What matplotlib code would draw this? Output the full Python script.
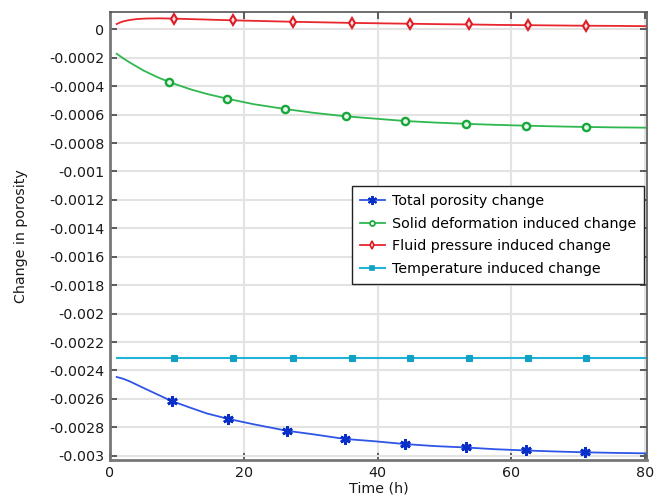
import numpy as np
import matplotlib
matplotlib.use("Agg")
import matplotlib.pyplot as plt

# Time samples (h) and porosity change for each contribution
t_solid = [1.0, 2.0, 3.0, 5.0, 7.0, 8.85, 12.0, 14.5, 17.5, 21.5, 26.2, 30.5, 35.2,
           40.0, 44.1, 48.5, 53.2, 57.5, 62.1, 66.5, 71.1, 75.5, 80.0]
solid = [-1.72e-4, -2.05e-4, -2.35e-4, -2.90e-4, -3.35e-4, -3.71e-4, -4.22e-4, -4.55e-4,
         -4.88e-4, -5.27e-4, -5.61e-4, -5.88e-4, -6.12e-4, -6.30e-4, -6.45e-4, -6.56e-4,
         -6.65e-4, -6.72e-4, -6.78e-4, -6.83e-4, -6.87e-4, -6.90e-4, -6.92e-4]
solid_marks = [8.85, 17.5, 26.2, 35.2, 44.1, 53.2, 62.1, 71.1]

t_fluid = [1.0, 1.5, 2.0, 3.0, 4.0, 5.5, 7.5, 9.6, 14.0, 18.4, 22.8, 27.3, 31.7, 36.1,
           40.5, 44.9, 49.3, 53.7, 58.0, 62.4, 66.8, 71.2, 75.6, 80.0]
fluid = [3.7e-5, 4.8e-5, 5.6e-5, 6.6e-5, 7.2e-5, 7.6e-5, 7.7e-5, 7.5e-5, 6.9e-5, 6.3e-5,
         5.8e-5, 5.3e-5, 4.9e-5, 4.5e-5, 4.2e-5, 3.9e-5, 3.6e-5, 3.4e-5, 3.1e-5, 2.9e-5,
         2.7e-5, 2.5e-5, 2.4e-5, 2.2e-5]
fluid_marks = [9.6, 18.4, 27.3, 36.1, 44.9, 53.7, 62.4, 71.2]

t_temp = [1.0, 9.6, 18.4, 27.3, 36.1, 44.9, 53.7, 62.4, 71.2, 80.0]
temp = [-2.31e-3] * 10
temp_marks = [9.6, 18.4, 27.3, 36.1, 44.9, 53.7, 62.4, 71.2]

t_total = [1.0, 2.0, 3.0, 5.0, 7.0, 9.2, 12.0, 14.5, 17.7, 21.5, 26.4, 30.5, 35.1, 39.5,
           44.1, 48.5, 53.2, 57.5, 62.2, 66.5, 71.0, 75.5, 80.0]
total = [-2.446e-3, -2.459e-3, -2.478e-3, -2.523e-3, -2.567e-3, -2.615e-3, -2.662e-3,
         -2.703e-3, -2.741e-3, -2.779e-3, -2.824e-3, -2.850e-3, -2.882e-3, -2.898e-3,
         -2.918e-3, -2.932e-3, -2.942e-3, -2.954e-3, -2.963e-3, -2.970e-3, -2.976e-3,
         -2.980e-3, -2.983e-3]
total_marks = [9.2, 17.7, 26.4, 35.1, 44.1, 53.2, 62.2, 71.0]

yticks = np.round(np.arange(0, -0.00301, -0.0002), 5)
ytick_labels = ["0", "-0.0002", "-0.0004", "-0.0006", "-0.0008", "-0.001", "-0.0012",
                "-0.0014", "-0.0016", "-0.0018", "-0.002", "-0.0022", "-0.0024",
                "-0.0026", "-0.0028", "-0.003"]
xticks = [0, 20, 40, 60, 80]

FS = 10.3
plt.rcParams["font.family"] = ["DejaVu Sans"]

fig = plt.figure(figsize=(6.58, 5.0), dpi=100)
ax = fig.add_axes([0.1672, 0.08, 0.9837 - 0.1672, 0.9766 - 0.08])


def marks_idx(t, marks):
    return [i for i, v in enumerate(t) if v in marks]


ax.plot(t_total, total, color="#2f55e6", lw=1.3, marker=(6, 2, 0), ms=7.5, mew=2.0,
        mec="#0a2fc8", markevery=marks_idx(t_total, total_marks),
        label="Total porosity change", zorder=3)
ax.plot(t_solid, solid, color="#2fb84f", lw=1.3, marker="o", ms=5.2, mew=1.7,
        mfc="#e8f5ea", mec="#16a83a", markevery=marks_idx(t_solid, solid_marks),
        label="Solid deformation induced change", zorder=3)
ax.plot(t_fluid, fluid, color="#e8262e", lw=1.3, marker="d", ms=5.5, mew=1.5,
        mfc="#fbe3e3", mec="#dd1c24", markevery=marks_idx(t_fluid, fluid_marks),
        label="Fluid pressure induced change", zorder=3)
ax.plot(t_temp, temp, color="#1fb4d6", lw=1.5, marker="s", ms=4.5, mew=0.8,
        mfc="#12a0c4", mec="#12a0c4", markevery=marks_idx(t_temp, temp_marks),
        label="Temperature induced change", zorder=3)

ax.set_xlim(0, 80.3)
ax.set_ylim(-3.030e-3, 1.238e-4)
ax.set_xticks(xticks)
ax.set_xticklabels([str(x) for x in xticks], fontsize=FS)
ax.set_yticks(yticks)
ax.set_yticklabels(ytick_labels, fontsize=FS)

ax.grid(True, color="#e3e3e3", lw=1.5)
ax.set_axisbelow(True)
ax.tick_params(direction="in", length=5, width=1.2, color="#444444",
               top=True, right=True, labelcolor="#1a1a1a", pad=4)
for side in ("left", "bottom"):
    ax.spines[side].set_linewidth(2.0)
    ax.spines[side].set_color("#777777")
for side in ("top", "right"):
    ax.spines[side].set_linewidth(1.2)
    ax.spines[side].set_color("#555555")

ax.set_xlabel("Time (h)", fontsize=FS, color="#1a1a1a", labelpad=1.5)
ax.set_ylabel("Change in porosity", fontsize=FS, color="#1a1a1a", labelpad=15)

leg = ax.legend(loc="upper left", bbox_to_anchor=(0.4504, 0.611), fontsize=FS,
                frameon=True, fancybox=False, framealpha=1, edgecolor="#222222",
                handlelength=1.75, handletextpad=0.5, borderpad=0.55,
                labelspacing=0.6, borderaxespad=0)
leg.get_frame().set_linewidth(1.0)
for i, h in enumerate(leg.legend_handles):
    if i == 0:
        h.set_markersize(6.5)
        h.set_markeredgewidth(1.4)
    else:
        h.set_markersize(h.get_markersize() * 0.7)
        h.set_markeredgewidth(1.2)

fig.savefig("out.png", dpi=100)
